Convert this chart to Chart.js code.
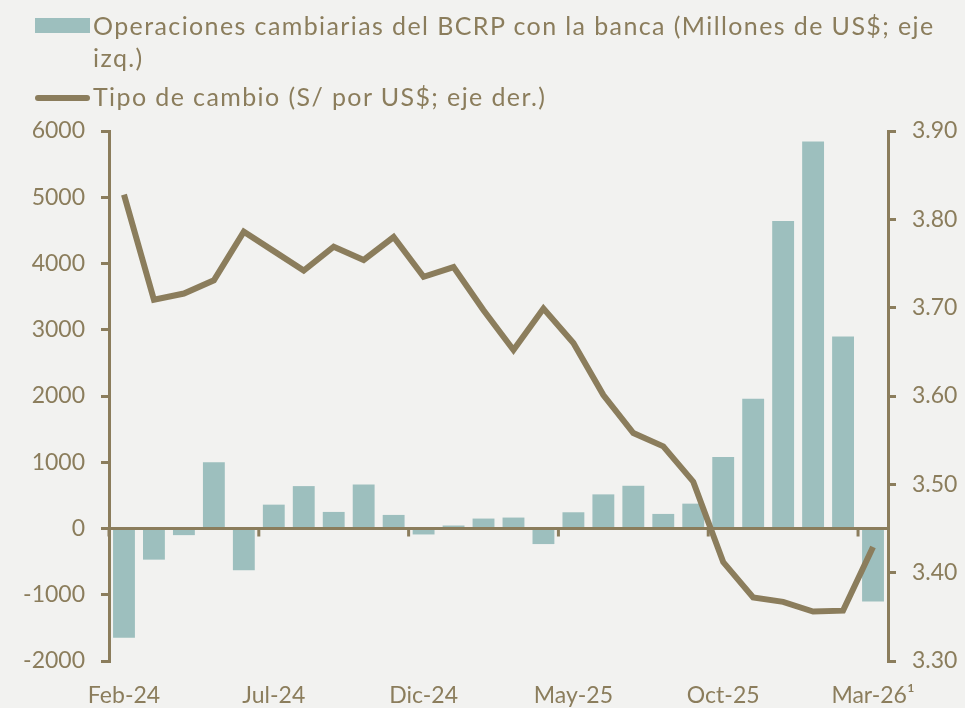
<!DOCTYPE html>
<html>
<head>
<meta charset="utf-8">
<script src="https://cdn.jsdelivr.net/npm/chart.js@4"></script>
<style>
  html, body { margin: 0; padding: 0; background: #f2f2f0; }
  #wrap { position: relative; width: 965px; height: 708px; }
  #chartView { position: absolute; left: 0; top: 0; }
  .leg { position: absolute; left: 35px; font-family: Lato, sans-serif; font-size: 25px;
         letter-spacing: 1.4px; color: #8b7d5c; line-height: 32px; }
  .leg .txt { position: absolute; left: 58px; top: 0; white-space: nowrap; }
  .box { position: absolute; left: 0; width: 55px; height: 15px; background: #9dbfbe; }
  .ln { position: absolute; left: 0; width: 55px; height: 6px; background: #8b7d5c; border-radius: 3px; }
</style>
</head>
<body>
<div id="wrap">
  <canvas id="chartView" width="965" height="708"></canvas>
  <div class="leg" style="top:9px">
    <div class="box" style="top:9px"></div>
    <div class="txt">Operaciones cambiarias del BCRP con la banca (Millones de US$; eje<br>izq.)</div>
  </div>
  <div class="leg" style="top:80px">
    <div class="ln" style="top:15px"></div>
    <div class="txt">Tipo de cambio (S/ por US$; eje der.)</div>
  </div>
</div>
<script>
var labels = ['Feb-24', 'Mar-24', 'Abr-24', 'May-24', 'Jun-24', 'Jul-24', 'Ago-24', 'Set-24', 'Oct-24', 'Nov-24',
              'Dic-24', 'Ene-25', 'Feb-25', 'Mar-25', 'Abr-25', 'May-25', 'Jun-25', 'Jul-25', 'Ago-25', 'Set-25',
              'Oct-25', 'Nov-25', 'Dic-25', 'Ene-26', 'Feb-26', 'Mar-26\u00b9'];
var operaciones = [-1650, -470, -100, 1000, -630, 360, 640, 250, 665, 205,
                   -90, 45, 150, 165, -235, 245, 515, 645, 220, 375,
                   1080, 1960, 4640, 5840, 2900, -1100];
var tipoCambio = [3.828, 3.709, 3.716, 3.731, 3.786, 3.764, 3.742, 3.769, 3.754, 3.780,
                  3.735, 3.746, 3.697, 3.652, 3.699, 3.660, 3.601, 3.558, 3.543, 3.503,
                  3.412, 3.372, 3.367, 3.356, 3.357, 3.429];

var brown = '#8b7d5c';
var teal = '#9dbfbe';
var tickFont = { family: 'Lato', size: 23 };

// tick marks on the zero line every 5 months
var zeroTicks = {
    id: 'zeroTicks',
    afterDatasetsDraw(chart) {
        var xs = chart.scales.x, ys = chart.scales.y;
        var y0 = ys.getPixelForValue(0);
        var step = xs.width / labels.length;
        var ctx = chart.ctx;
        ctx.save();
        ctx.strokeStyle = brown;
        ctx.lineWidth = 3;
        for (var i = 0; i < labels.length; i += 5) {
            var x = xs.left + i * step;
            ctx.beginPath();
            ctx.moveTo(x, y0);
            ctx.lineTo(x, y0 + 8);
            ctx.stroke();
        }
        ctx.restore();
    }
};

new Chart(document.getElementById('chartView').getContext('2d'), {
    data: {
        labels: labels,
        datasets: [
            {
                type: 'line',
                label: 'Tipo de cambio (S/ por US$; eje der.)',
                data: tipoCambio,
                yAxisID: 'y1',
                borderColor: brown,
                borderWidth: 6,
                pointRadius: 0,
                tension: 0,
                order: 0
            },
            {
                type: 'bar',
                label: 'Operaciones cambiarias del BCRP con la banca (Millones de US$; eje izq.)',
                data: operaciones,
                yAxisID: 'y',
                backgroundColor: teal,
                barPercentage: 0.73,
                categoryPercentage: 1,
                order: 1
            }
        ]
    },
    plugins: [zeroTicks],
    options: {
        responsive: false,
        animation: false,
        layout: { padding: { top: 131, left: 0, right: 0, bottom: 0 } },
        plugins: { legend: { display: false }, tooltip: { enabled: false } },
        scales: {
            x: {
                offset: true,
                grid: { display: false },
                border: { display: false },
                ticks: {
                    autoSkip: false, maxRotation: 0, color: brown, font: tickFont, padding: 13,
                    callback: function (v, i) { return i % 5 === 0 ? labels[i] : ''; }
                },
                afterFit: function (s) { s.height = 47; }
            },
            y: {
                position: 'left',
                min: -2000, max: 6000,
                ticks: {
                    stepSize: 1000, color: brown, font: tickFont, padding: 16,
                    callback: function (v) { return String(v); }
                },
                grid: {
                    color: function (c) { return c.tick && c.tick.value === 0 ? brown : 'rgba(0,0,0,0)'; },
                    lineWidth: 3, tickColor: brown, tickLength: 8
                },
                border: { color: brown, width: 3 },
                afterFit: function (s) { s.width = 109; }
            },
            y1: {
                position: 'right',
                min: 3.3, max: 3.9,
                ticks: {
                    stepSize: 0.1, color: brown, font: tickFont, padding: 16,
                    callback: function (v) { return v.toFixed(2); }
                },
                grid: { drawOnChartArea: false, tickColor: brown, tickLength: 8, lineWidth: 3 },
                border: { color: brown, width: 3 },
                afterFit: function (s) { s.width = 77; }
            }
        }
    }
});
</script>
</body>
</html>
